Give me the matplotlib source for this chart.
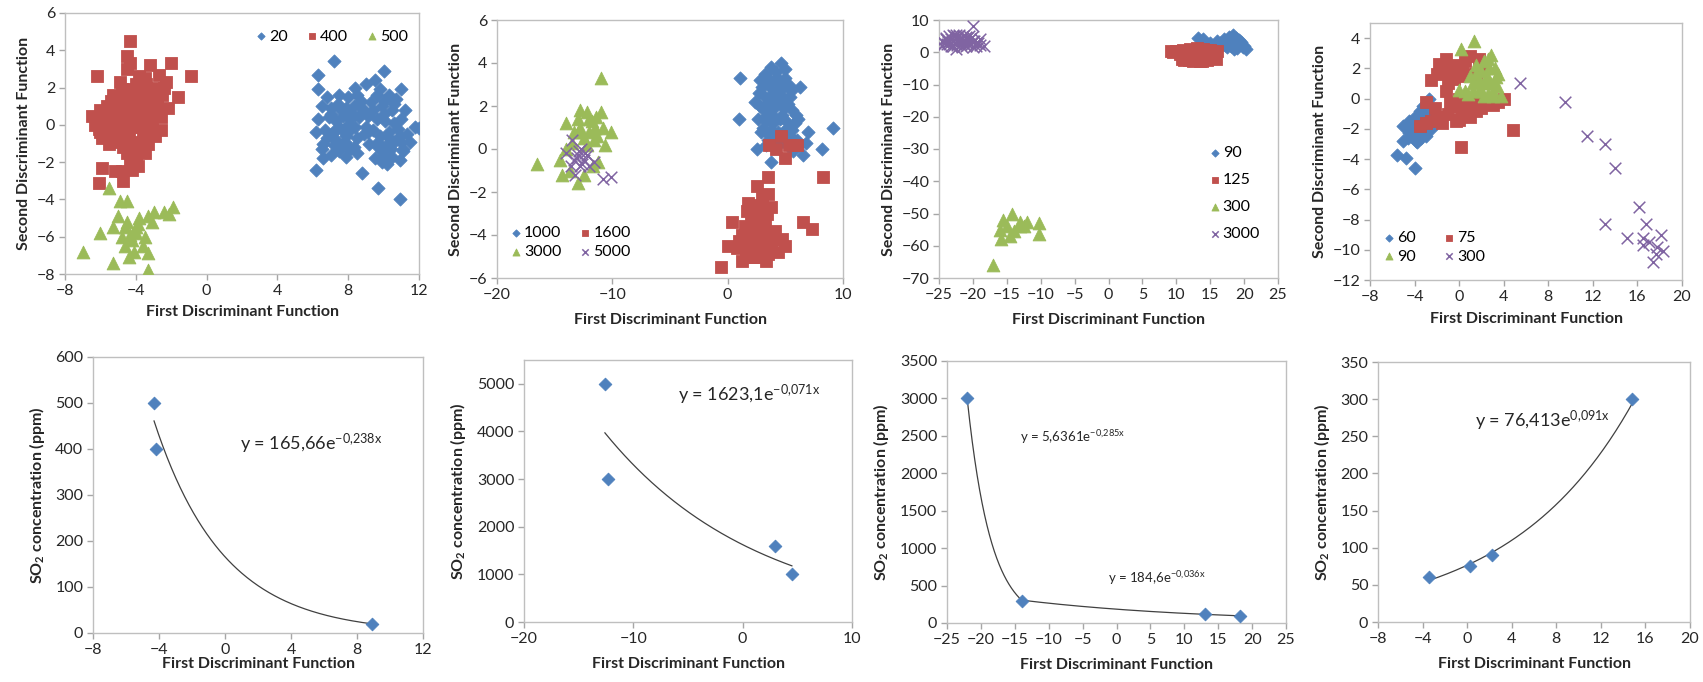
import numpy as np
import matplotlib
matplotlib.use("Agg")
import matplotlib.pyplot as plt

plt.rcParams['font.family'] = ['Lato', 'DejaVu Sans']
plt.rcParams['mathtext.default'] = 'regular'

BLUE = '#4F81BD'
RED = '#C0504D'
GREEN = '#9BBB59'
PURPLE = '#8064A2'
GRAY = '#BFBFBF'

# ---------------- Panel 1 data ----------------
p1_20_x = [6.3, 7.2, 10.0, 9.5, 9.0, 11.0, 6.3, 6.8, 7.5, 8.0, 8.5, 9.8, 10.3, 10.7, 6.5, 7.0, 7.4, 7.9, 8.3, 8.8,
           9.3, 9.9, 10.5, 6.3, 6.9, 7.3, 7.7, 8.1, 8.6, 9.1, 9.6, 10.1, 10.6, 11.0, 6.2, 6.7, 7.1, 7.6, 8.0, 8.4,
           8.9, 9.4, 9.8, 10.3, 10.8, 11.3, 11.8, 12.0, 6.6, 7.2, 7.8, 8.3, 9.2, 9.7, 10.2, 10.6, 11.1, 7.0, 7.5, 8.5,
           9.5, 10.0, 10.5, 10.9, 11.1, 6.6, 6.2, 8.8, 9.7, 10.9, 10.2, 9.9, 7.9, 8.0, 9.0, 10.0, 8.7, 7.3, 11.2, 11.0,
           7.0, 7.6, 8.2, 8.8, 9.4, 10.0, 10.6, 7.3, 7.9, 8.5, 9.1, 9.7, 10.3, 10.9, 6.8, 7.5, 8.1, 9.9, 10.4, 11.5,
           9.6, 8.4, 6.5, 7.8]
p1_20_y = [2.7, 3.4, 2.9, 2.4, 2.2, 1.9, 1.9, 1.5, 1.6, 1.5, 1.6, 1.9, 1.6, 1.4, 1.0, 0.9, 1.1, 0.9, 1.0, 0.9,
           1.2, 1.0, 0.8, 0.3, 0.4, 0.2, 0.5, 0.3, 0.4, 0.5, 0.3, 0.2, 0.1, 0.3, -0.4, -0.3, -0.5, -0.2, -0.4, -0.1,
           -0.5, -0.3, -0.6, -0.4, -0.2, -0.5, -0.1, -0.15, -1.0, -1.1, -0.9, -1.2, -1.0, -1.2, -1.1, -0.9, -1.3, -1.6, -1.4, -1.5,
           -1.8, -1.6, -1.7, -1.9, -1.4, -1.8, -2.4, -2.6, -3.4, -4.0, -2.1, -2.0, -1.7, 0.0, -0.1, 0.6, 1.3, -0.8, 0.8, -0.9,
           0.6, 0.8, 0.6, 0.7, 0.8, 1.3, 1.1, -0.2, -0.6, -0.7, -0.4, -0.9, -0.7, -0.6, -0.7, -1.2, -1.3, -1.4, -1.3, -0.9,
           1.6, 2.0, -1.3, -0.2]
p1_400_x = [-4.3, -4.5, -4.3, -4.5, -3.2, -2.0, -0.9, -6.2, -2.7, -2.3, -1.6, -3.5, -4.0, -4.8, -5.3, -3.0, -2.5, -3.7,
            -4.4, -5.0, -5.6, -6.0, -6.5, -3.3, -2.8, -2.2, -3.9, -4.6, -5.3, -5.8, -6.1, -3.5, -2.9, -4.1, -4.8, -5.5,
            -5.9, -3.7, -3.1, -2.6, -4.4, -5.0, -5.5, -3.4, -4.0, -4.7, -4.5, -4.3, -3.5, -4.0, -5.2, -5.9, -6.1, -4.7,
            -4.8, -4.2, -3.9, -4.6, -3.6, -5.1, -3.2, -2.4, -3.8, -4.9,
            -5.5, -5.0, -4.5, -4.0, -3.5, -3.0, -5.2, -4.7, -4.2, -3.7, -3.2, -2.7, -5.7, -5.0, -4.3, -3.6, -2.9, -5.4,
            -4.9, -4.4, -3.9, -3.4, -4.6, -4.1, -3.0, -2.6, -5.6, -6.3, -6.0, -3.3]
p1_400_y = [4.5, 3.7, 3.3, 3.0, 3.2, 3.3, 2.6, 2.6, 2.7, 2.3, 1.5, 2.5, 2.2, 1.9, 1.6, 2.0, 1.6, 1.8,
            1.5, 1.2, 1.0, 0.8, 0.5, 1.4, 1.2, 0.9, 1.0, 0.8, 0.5, 0.2, -0.2, 0.6, 0.5, 0.3, 0.1, -0.3,
            -0.7, -0.1, -0.2, -0.3, -0.4, -0.6, -1.0, -0.7, -0.9, -1.2, -1.5, -1.9, -1.5, -2.0, -2.5, -2.3, -3.1, -3.0,
            -2.5, -2.4, -2.2, 0.5, 0.2, -0.2, 0.9, 2.0, 2.6, 1.4,
            0.0, 0.4, 1.1, 1.4, 1.9, 1.5, -0.9, -0.3, 0.7, 0.9, 0.2, 0.7, 0.4, 0.8, -0.1, -0.5, -0.6, 1.3,
            2.3, 1.9, 1.6, 2.2, -0.8, -1.4, 1.8, 0.4, -0.6, 0.0, -0.4, -1.0]
p1_500_x = [-5.5, -4.9, -4.5, -5.0, -6.0, -5.3, -4.6, -4.3, -4.0, -3.8, -3.3, -3.0, -2.4, -1.9, -2.1, -3.1, -3.5, -4.2,
            -4.6, -4.1, -4.4, -3.3, -5.3, -3.3, -7.0, -4.8, -4.0, -3.6, -4.5, -3.9]
p1_500_y = [-3.4, -4.1, -4.1, -4.9, -5.8, -5.5, -5.5, -5.9, -5.5, -5.0, -4.9, -4.7, -4.7, -4.4, -4.8, -5.2, -6.0, -6.2,
            -6.5, -6.8, -7.1, -6.9, -7.4, -7.8, -6.8, -6.0, -5.8, -6.5, -5.2, -5.3]

# ---------------- Panel 2 data ----------------
p2_1000_x = [1.1, 1.0, 2.4, 6.3, 9.1, 8.2, 2.5, 3.8, 6.5, 6.1, 7.0, 4.6, 3.8, 3.2, 4.2, 5.0, 2.8, 3.5, 4.4, 5.3,
             2.7, 3.2, 3.9, 4.6, 5.4, 3.0, 3.6, 4.2, 4.9, 5.6, 2.6, 3.3, 3.9, 4.5, 5.1, 5.8, 2.9, 3.5, 4.1, 4.8,
             5.4, 6.0, 3.3, 4.0, 5.7, 6.2, 4.3, 3.6, 4.8, 5.2, 3.1, 6.8, 5.9, 4.5,
             3.0, 3.7, 4.3, 5.0, 5.5, 2.8, 3.4, 4.0, 4.7, 5.2, 3.8, 4.4, 5.0, 3.5, 4.2, 4.9, 5.6, 4.0]
p2_1000_y = [3.3, 1.4, 2.2, 2.9, 1.0, 0.0, 0.0, -0.6, -0.3, 1.4, 0.8, 4.0, 3.8, 3.5, 3.6, 3.7, 3.2, 3.0, 3.1, 3.0,
             2.6, 2.4, 2.6, 2.5, 2.4, 1.9, 1.8, 2.0, 1.9, 1.8, 1.4, 1.3, 1.2, 1.4, 1.3, 1.2, 0.8, 0.7, 0.6, 0.8,
             0.6, 0.4, 0.2, 0.1, -0.1, 0.2, 3.3, 2.2, 2.9, 2.1, 1.0, 0.3, 1.6, 0.3,
             2.9, 3.2, 2.8, 3.3, 2.7, 2.0, 1.6, 1.5, 1.6, 1.0, 0.9, 0.8, 0.3, 0.4, 2.3, 2.2, 0.9, 0.4]
p2_1600_x = [3.6, 4.6, 5.3, 6.0, 5.0, 4.2, 3.5, 2.5, 3.5, 1.8, 2.8, 1.7, 3.8, 2.4, 0.4, 1.2, 2.0, 3.2, 4.1, 6.5,
             7.3, 8.3, 0.0, 0.8, 1.7, 2.6, 1.2, 2.2, 3.5, 4.7, 5.0, -0.6, 2.8, 3.0, 1.5, 2.1, 3.8, 4.4,
             2.0, 2.8, 3.4, 1.5, 2.3, 3.2, 4.0, 1.0, 1.9, 2.7, 3.6, 2.5, 3.0, 1.6, 3.3]
p2_1600_y = [0.2, 0.6, 0.2, 0.2, -0.4, 0.0, -1.3, -1.7, -2.1, -2.5, -2.6, -2.9, -2.7, -3.3, -3.4, -4.0, -3.8, -3.5, -3.8, -3.4,
             -3.7, -1.3, -4.5, -4.6, -4.8, -5.0, -5.2, -5.0, -4.9, -4.2, -4.5, -5.5, -4.3, -4.0, -4.3, -4.5, -4.6, -4.8,
             -3.0, -3.0, -3.0, -3.6, -3.6, -3.9, -4.2, -4.3, -4.2, -4.7, -4.3, -3.9, -2.3, -5.0, -5.2]
p2_3000_x = [-11.0, -16.5, -14.4, -13.0, -10.1, -11.2, -10.6, -11.0, -12.0, -13.0, -14.0, -12.5, -13.5, -12.0, -11.5,
             -14.5, -13.0, -12.2, -11.4, -13.7, -11.7, -12.5, -10.8, -12.8, -14.0, -11.6,
             -12.2, -13.3, -11.8, -12.8, -11.3]
p2_3000_y = [3.3, -0.7, -1.2, -1.6, 0.8, -0.6, 0.2, 1.7, 1.4, 1.4, 1.2, 0.5, 0.3, 0.8, 1.0,
             -0.5, 0.8, 1.7, 1.5, -1.0, -0.8, -1.2, 1.0, 1.0, 0.0, 0.4,
             0.2, 0.8, 1.3, 1.8, 0.6]
p2_5000_x = [-13.5, -14.0, -13.3, -13.0, -12.5, -12.8, -13.6, -12.2, -11.6, -10.1, -10.8, -13.2, -12.9, -12.6, -13.1,
             -12.7, -12.0, -12.4]
p2_5000_y = [0.4, -0.2, -0.5, -0.3, -0.5, -0.8, -0.8, -0.3, -0.6, -1.3, -1.4, -1.2, -0.1, -0.7, -0.4,
             0.0, -0.8, -0.2]

# ---------------- Panel 3 data ----------------
p3_90_x = [13.2, 18.3, 17.8, 18.8, 19.2, 17.0, 16.5, 17.5, 18.5, 19.6, 20.3, 19.8, 18.5, 17.5, 16.5, 15.0, 14.5,
           18.0, 19.0, 17.2, 16.0, 18.2, 19.5, 13.8, 15.5, 17.0, 18.0, 19.0, 20.0, 16.0, 17.8, 18.8, 14.0, 15.8, 16.8]
p3_90_y = [4.5, 5.5, 4.8, 4.5, 3.8, 4.0, 3.0, 3.2, 2.8, 2.5, 1.0, 1.5, 1.0, 1.5, 1.8, 3.0, 2.0,
           2.0, 1.2, 2.3, 2.5, 3.8, 3.3, 3.0, 1.5, 3.0, 3.0, 2.0, 2.0, 3.5, 4.0, 1.8, 4.0, 2.0, 2.2]
p3_125_x = [9.2, 10.0, 11.0, 12.0, 13.0, 14.0, 15.0, 16.0, 10.5, 11.5, 12.5, 13.5, 14.5, 15.5, 11.0, 12.0, 13.0,
            14.0, 15.0, 11.2, 12.5, 13.5, 14.5, 15.8, 10.5, 12.8, 14.8, 11.8, 13.2, 15.5,
            9.5, 10.5, 11.5, 12.5, 13.5, 14.5, 15.5, 11.0, 12.0, 13.0, 14.0, 15.0, 10.8, 12.2, 13.8]
p3_125_y = [0.5, 0.5, 0.8, 1.0, 1.2, 1.0, 0.8, 0.5, -0.5, -0.3, -0.2, -0.5, -0.3, -0.5, -1.5, -1.8, -1.5,
            -1.8, -1.5, -2.5, -2.8, -2.6, -2.3, -2.0, 0.0, 0.3, 0.4, -2.3, -2.0, -1.0,
            0.0, 0.2, 0.5, 0.6, 0.5, 0.6, 0.2, -0.8, -1.0, -1.0, -1.0, -0.8, -2.0, -2.3, -2.8]
p3_300_x = [-17.0, -15.8, -15.5, -14.2, -13.0, -12.0, -10.3, -10.3, -15.0, -14.0, -13.0, -16.0, -12.5, -14.5]
p3_300_y = [-66.0, -58.0, -52.0, -50.0, -52.5, -52.5, -53.0, -56.5, -54.0, -55.5, -54.0, -55.0, -54.0, -57.0]
p3_3000_x = [-20.0, -24.5, -18.3, -24.0, -23.5, -23.0, -22.5, -22.0, -21.5, -21.0, -20.5, -20.0, -19.5, -19.0,
             -23.8, -23.2, -22.7, -22.3, -21.8, -21.3, -20.8, -20.3, -19.8, -22.9, -21.6, -23.5, -22.0, -20.6,
             -18.9, -24.2, -21.0, -22.5,
             -24.5, -23.8, -23.0, -22.3, -21.5, -20.8, -20.0, -19.2, -24.0, -23.2, -22.5, -21.8, -21.0, -20.2,
             -19.5, -22.8, -21.3, -23.6]
p3_3000_y = [8.0, 3.5, 2.0, 4.5, 2.5, 5.5, 1.0, 3.5, 5.0, 2.0, 4.0, 1.5, 3.0, 4.0,
             3.8, 4.2, 3.0, 4.6, 2.7, 3.8, 3.0, 2.5, 3.6, 2.0, 1.5, 5.0, 5.2, 5.0,
             2.3, 2.8, 4.6, 4.0,
             2.0, 2.5, 3.5, 2.3, 3.2, 4.5, 3.5, 2.8, 4.0, 1.8, 5.3, 4.2, 3.3, 4.6,
             2.0, 4.9, 2.5, 3.2]

# ---------------- Panel 4 data ----------------
p4_60_x = [-5.6, -4.8, -4.0, -5.0, -4.5, -5.0, -4.0, -3.5, -2.7, -3.0, -3.5, -3.8, -3.0, -2.5, -4.2, -3.2, -4.5,
           -2.8, -3.6, -4.1, -4.3, -3.8, -3.3, -2.9, -4.6, -3.9, -3.4, -2.6]
p4_60_y = [-3.7, -3.9, -4.6, -2.8, -2.3, -1.8, -1.2, -0.8, 0.0, -1.5, -2.0, -2.9, -2.5, -2.0, -1.8, -0.5, -1.5,
           -1.0, -2.5, -2.4, -2.0, -1.5, -1.2, -2.0, -2.6, -2.8, -2.6, -1.3]
p4_75_x = [-1.2, -1.5, -0.5, 0.5, 1.0, -2.5, -2.0, -1.0, 0.0, 1.5, 2.3, -3.0, 4.0, 4.8, 0.2, -3.5, -3.0, -2.0,
           -1.0, 0.0, 0.5, 1.5, 1.0, 2.5, -0.5, -1.5, -2.5, 0.0, 2.0, 3.0, -0.3, 1.2,
           -1.0, -0.5, 0.3, 0.8, 1.8, -1.8, -2.2, -0.8, 0.2, 1.0, 2.0, -1.2, 3.5]
p4_75_y = [2.6, 2.0, 2.2, 2.5, 2.8, 1.2, 1.6, 1.0, 1.5, 1.6, 2.2, -0.2, 0.0, -2.1, -3.2, -1.8, -1.6, -1.2,
           -1.0, -1.4, -0.5, -0.8, -1.2, -0.3, -0.5, -1.6, -1.5, 0.0, -0.2, -0.4, -1.5, -0.2,
           1.8, 1.3, 2.0, 1.6, 2.6, 2.3, -0.6, -0.2, -0.8, -0.1, -0.6, 0.5, -0.2]
p4_90_x = [0.2, 1.3, 2.9, 2.6, 3.3, 3.5, 1.5, 2.0, 1.2, 2.0, 3.0, 0.0, 0.5, 3.8, 1.8, 2.5, 2.2, 3.2, 1.0, 0.8, 2.8,
           1.5, 2.2, 2.7, 3.1, 1.8, 2.4, 3.0, 1.2, 2.6, 3.4]
p4_90_y = [3.3, 3.8, 2.9, 2.6, 1.4, 1.6, 2.2, 1.8, 1.0, 0.5, 0.5, 0.6, 0.5, 0.2, 1.2, 1.5, 0.2, 2.0, 1.5, 0.3, 1.0,
           1.6, 2.5, 2.0, 1.0, 0.5, 1.0, 0.2, 0.5, 0.3, 0.8]
p4_300_x = [5.5, 9.5, 11.5, 13.1, 14.0, 16.1, 13.1, 15.1, 16.5, 16.8, 16.5, 17.0, 17.4, 17.8, 18.1, 18.3, 17.7]
p4_300_y = [1.0, -0.2, -2.5, -3.0, -4.6, -7.2, -8.3, -9.2, -9.2, -8.3, -9.7, -9.5, -10.8, -9.8, -9.0, -10.1, -10.3]

# ---------------- Bottom row data ----------------
b1_x = [-4.3, -4.2, 8.9]
b1_y = [500, 400, 20]
b1_coef = (165.66, -0.238)
b2_x = [-12.6, -12.3, 3.0, 4.5]
b2_y = [5000, 3000, 1600, 1000]
b2_coef = (1623.1, -0.071)
b3_x = [-22.0, -14.0, 13.0, 18.2]
b3_y = [3000, 300, 120, 90]
b3_coef1 = (5.6361, -0.285)
b3_coef2 = (184.6, -0.036)
b4_x = [-3.4, 0.3, 2.2, 14.8]
b4_y = [60, 75, 90, 300]
b4_coef = (76.413, 0.091)

W, H = 1703, 682
fig = plt.figure(figsize=(W / 100, H / 100), dpi=100)

TICK_FS = 11.5
LAB_FS = 11.5


def add_ax(x0, x1, y0, y1):
    ax = fig.add_axes([x0 / W, (H - y1) / H, (x1 - x0) / W, (y1 - y0) / H])
    for s in ax.spines.values():
        s.set_color(GRAY)
        s.set_linewidth(1.0)
    ax.tick_params(direction='out', length=4, width=1, color='#A6A6A6', labelsize=TICK_FS,
                   labelcolor='#262626', pad=3)
    return ax


SZ = dict(D=45, s=72, t=85, x=70)


def sc(ax, x, y, kind, color, label=None, size=None):
    if kind == 'x':
        return ax.scatter(x, y, marker='x', s=size or SZ['x'], c=color, linewidths=1.1, label=label, zorder=3)
    key = {'D': 'D', 's': 's', '^': 't'}[kind]
    return ax.scatter(x, y, marker=kind, s=size or SZ[key], c=color, edgecolors=color, linewidths=0.6,
                      label=label, zorder=3)


lab_kw = dict(fontsize=LAB_FS, fontweight='bold', color='#262626')
leg_kw = dict(frameon=False, fontsize=TICK_FS, markerscale=0.55, handletextpad=0.0, handlelength=1.0,
              borderpad=0.2)

# Panel 1
ax1 = add_ax(65, 419, 13, 274)
h20 = sc(ax1, p1_20_x, p1_20_y, 'D', BLUE, '20')
h400 = sc(ax1, p1_400_x, p1_400_y, 's', RED, '400')
h500 = sc(ax1, p1_500_x, p1_500_y, '^', GREEN, '500')
ax1.set_xlim(-8, 12)
ax1.set_ylim(-8, 6)
ax1.set_xticks(np.arange(-8, 13, 4))
ax1.set_yticks(np.arange(-8, 7, 2))
ax1.set_xlabel('First Discriminant Function', labelpad=5, **lab_kw)
ax1.set_ylabel('Second Discriminant Function', labelpad=4, **lab_kw)
ax1.legend(handles=[h20, h400, h500], ncol=3, loc='upper right', bbox_to_anchor=(1.0, 0.98),
           columnspacing=1.0, **leg_kw)

# Panel 2
ax2 = add_ax(497, 843, 20, 278)
h1000 = sc(ax2, p2_1000_x, p2_1000_y, 'D', BLUE, '1000')
h1600 = sc(ax2, p2_1600_x, p2_1600_y, 's', RED, '1600')
h3000 = sc(ax2, p2_3000_x, p2_3000_y, '^', GREEN, '3000')
h5000 = sc(ax2, p2_5000_x, p2_5000_y, 'x', PURPLE, '5000')
ax2.set_xlim(-20, 10)
ax2.set_ylim(-6, 6)
ax2.set_xticks([-20, -10, 0, 10])
ax2.set_yticks(np.arange(-6, 7, 2))
ax2.set_xlabel('First Discriminant Function', labelpad=8, **lab_kw)
ax2.set_ylabel('Second Discriminant Function', labelpad=4, **lab_kw)
ax2.legend(handles=[h1000, h3000, h1600, h5000], ncol=2, loc='lower left', bbox_to_anchor=(0.0, 0.03),
           columnspacing=1.0, labelspacing=0.3, **leg_kw)

# Panel 3
ax3 = add_ax(939, 1278, 20, 278)
h90 = sc(ax3, p3_90_x, p3_90_y, 'D', BLUE, '90')
h125 = sc(ax3, p3_125_x, p3_125_y, 's', RED, '125')
h300 = sc(ax3, p3_300_x, p3_300_y, '^', GREEN, '300')
h3000b = sc(ax3, p3_3000_x, p3_3000_y, 'x', PURPLE, '3000')
ax3.set_xlim(-25, 25)
ax3.set_ylim(-70, 10)
ax3.set_xticks(np.arange(-25, 26, 5))
ax3.set_yticks(np.arange(-70, 11, 10))
ax3.set_xlabel('First Discriminant Function', labelpad=8, **lab_kw)
ax3.set_ylabel('Second Discriminant Function', labelpad=4, **lab_kw)
ax3.legend(handles=[h90, h125, h300, h3000b], ncol=1, loc='lower right', bbox_to_anchor=(0.98, 0.1),
           labelspacing=0.8, **leg_kw)

# Panel 4
ax4 = add_ax(1370, 1682, 23, 280)
h60 = sc(ax4, p4_60_x, p4_60_y, 'D', BLUE, '60')
h75 = sc(ax4, p4_75_x, p4_75_y, 's', RED, '75')
h90b = sc(ax4, p4_90_x, p4_90_y, '^', GREEN, '90')
h300b = sc(ax4, p4_300_x, p4_300_y, 'x', PURPLE, '300')
ax4.set_xlim(-8, 20)
ax4.set_ylim(-12, 5)
ax4.set_xticks(np.arange(-8, 21, 4))
ax4.set_yticks(np.arange(-12, 5, 2))
ax4.set_xlabel('First Discriminant Function', labelpad=6, **lab_kw)
ax4.set_ylabel('Second Discriminant Function', labelpad=4, **lab_kw)
ax4.legend(handles=[h60, h90b, h75, h300b], ncol=2, loc='lower left', bbox_to_anchor=(0.0, 0.02),
           columnspacing=1.6, labelspacing=0.3, **leg_kw)

# Bottom row
so2 = 'SO$_2$ concentration (ppm)'
TREND = '#404040'


def trend(ax, xs, coef):
    xx = np.linspace(min(xs), max(xs), 200)
    ax.plot(xx, coef[0] * np.exp(coef[1] * xx), color=TREND, lw=0.9, zorder=2)


BD = 42

ax5 = add_ax(93, 423, 357, 633)
sc(ax5, b1_x, b1_y, 'D', BLUE, size=BD)
trend(ax5, b1_x, b1_coef)
ax5.set_xlim(-8, 12)
ax5.set_ylim(0, 600)
ax5.set_xticks(np.arange(-8, 13, 4))
ax5.set_yticks(np.arange(0, 601, 100))
ax5.set_xlabel('First Discriminant Function', labelpad=0, **lab_kw)
ax5.set_ylabel(so2, labelpad=6, **lab_kw)
ax5.text(0.9, 410, r'y = 165,66e$^{-0{,}238x}$', fontsize=13, color='#262626', va='center')

ax6 = add_ax(524, 852, 360, 622)
sc(ax6, b2_x, b2_y, 'D', BLUE, size=BD)
trend(ax6, b2_x, b2_coef)
ax6.set_xlim(-20, 10)
ax6.set_ylim(0, 5500)
ax6.set_xticks([-20, -10, 0, 10])
ax6.set_yticks(np.arange(0, 5001, 1000))
ax6.set_xlabel('First Discriminant Function', labelpad=8, **lab_kw)
ax6.set_ylabel(so2, labelpad=6, **lab_kw)
ax6.text(-5.9, 4770, r'y = 1623,1e$^{-0{,}071x}$', fontsize=13, color='#262626', va='center')

ax7 = add_ax(947, 1286, 361, 623)
sc(ax7, b3_x, b3_y, 'D', BLUE, size=BD)
trend(ax7, b3_x[:2], b3_coef1)
trend(ax7, b3_x[1:], b3_coef2)
ax7.set_xlim(-25, 25)
ax7.set_ylim(0, 3500)
ax7.set_xticks(np.arange(-25, 26, 5))
ax7.set_yticks(np.arange(0, 3501, 500))
ax7.set_xlabel('First Discriminant Function', labelpad=8, **lab_kw)
ax7.set_ylabel(so2, labelpad=6, **lab_kw)
ax7.text(-14.2, 2490, r'y = 5,6361e$^{-0{,}285x}$', fontsize=9.5, color='#262626', va='center')
ax7.text(-1.2, 594, r'y = 184,6e$^{-0{,}036x}$', fontsize=9.5, color='#262626', va='center')

ax8 = add_ax(1378, 1690, 362, 622)
sc(ax8, b4_x, b4_y, 'D', BLUE, size=BD)
trend(ax8, b4_x, b4_coef)
ax8.set_xlim(-8, 20)
ax8.set_ylim(0, 350)
ax8.set_xticks(np.arange(-8, 21, 4))
ax8.set_yticks(np.arange(0, 351, 50))
ax8.set_xlabel('First Discriminant Function', labelpad=8, **lab_kw)
ax8.set_ylabel(so2, labelpad=6, **lab_kw)
ax8.text(0.72, 271, r'y = 76,413e$^{0{,}091x}$', fontsize=13, color='#262626', va='center')

fig.savefig('out.png', dpi=100, facecolor='white')
